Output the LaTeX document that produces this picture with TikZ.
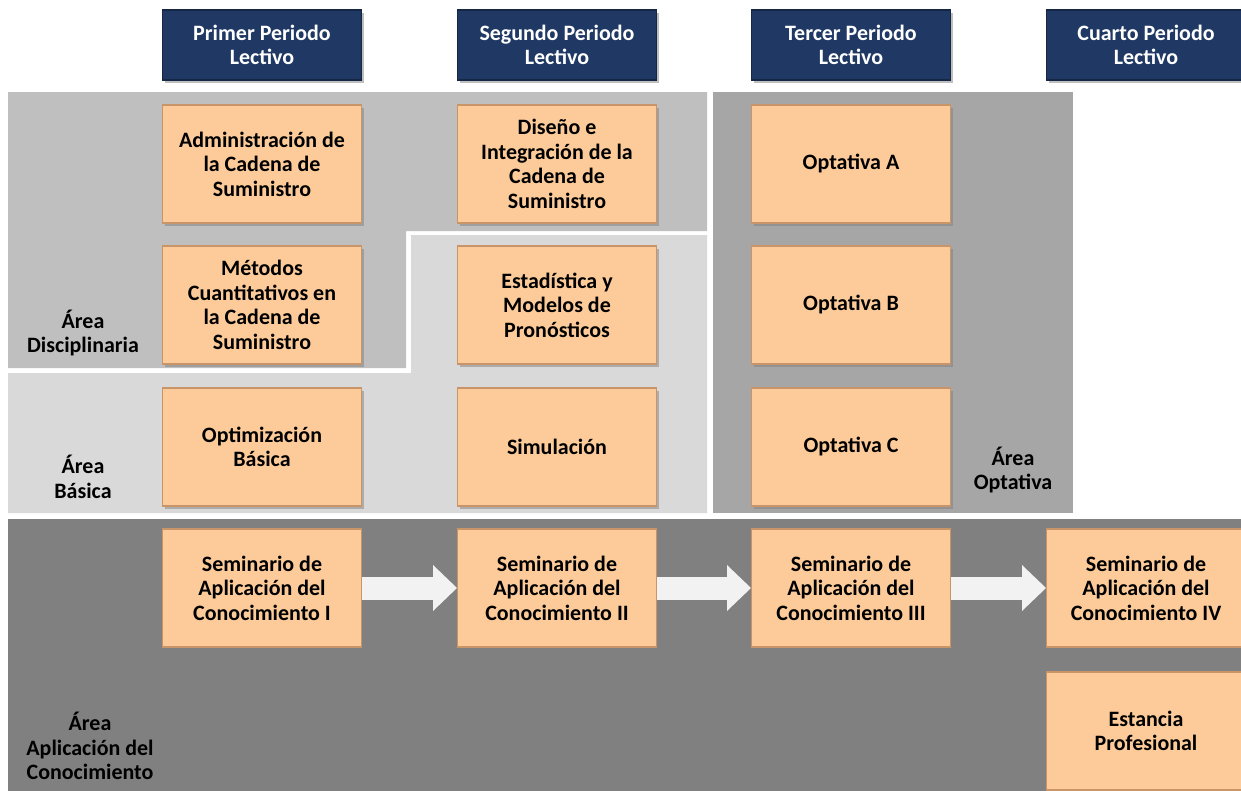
\documentclass[tikz,border=0pt]{standalone}
\usepackage{fontspec}
\setmainfont{Carlito}
\usetikzlibrary{arrows.meta,shadows}

\definecolor{naranja}{RGB}{252,203,153}
\definecolor{naranjaborde}{RGB}{200,148,104}
\definecolor{azul}{RGB}{31,56,100}
\definecolor{grisdisc}{RGB}{191,191,191}
\definecolor{grisbas}{RGB}{217,217,217}
\definecolor{grisopt}{RGB}{166,166,166}
\definecolor{grisapl}{RGB}{128,128,128}
\definecolor{grisflecha}{RGB}{242,242,242}

\tikzset{
  curso/.style={draw=naranjaborde, line width=0.6pt, fill=naranja,
    minimum width=3.98cm, minimum height=2.36cm, inner sep=0pt, align=center,
    font=\fontsize{12.5}{14}\selectfont\bfseries,
    drop shadow={shadow xshift=1.5pt, shadow yshift=-1.5pt, opacity=0.5}},
  periodo/.style={curso, draw=azul!70!black, fill=azul, text=white, minimum height=1.4cm},
  area/.style={align=center, inner sep=0pt, font=\fontsize{12.5}{14}\selectfont\bfseries},
  flecha/.style={draw=grisflecha, line width=0.46cm,
    -{Triangle[length=0.48cm, width=0.92cm, line width=0pt]}}
}

\begin{document}
\begin{tikzpicture}[x=0.02cm, y=-0.02cm]

    \useasboundingbox (0,0) rectangle (1241,791);

    \fill[grisdisc] (8,92) -- (707,92) -- (707,231) -- (406,231) -- (406,368) -- (8,368) -- cycle;
    \fill[grisbas] (411,235) -- (707,235) -- (707,513) -- (8,513) -- (8,373) -- (411,373) -- cycle;
    \fill[grisopt] (713,92) rectangle (1073,513);
    \fill[grisapl] (8,519) rectangle (1241,791);

    \node[periodo] (p1) at (262,45) {Primer Periodo\\Lectivo};
    \node[periodo] (p2) at (557,45) {Segundo Periodo\\Lectivo};
    \node[periodo] (p3) at (851,45) {Tercer Periodo\\Lectivo};
    \node[periodo] (p4) at (1146,45) {Cuarto Periodo\\Lectivo};

    \node[curso] (admin) at (262,164) {Administración de\\la Cadena de\\Suministro};
    \node[curso] (metodos) at (262,305) {Métodos\\Cuantitativos en\\la Cadena de\\Suministro};
    \node[curso] (optim) at (262,447) {Optimización\\Básica};

    \node[curso] (diseno) at (557,164) {Diseño e\\Integración de la\\Cadena de\\Suministro};
    \node[curso] (estad) at (557,305) {Estadística y\\Modelos de\\Pronósticos};
    \node[curso] (simul) at (557,447) {Simulación};

    \node[curso] (optA) at (851,164) {Optativa A};
    \node[curso] (optB) at (851,305) {Optativa B};
    \node[curso] (optC) at (851,447) {Optativa C};

    \node[curso] (sem1) at (262,588) {Seminario de\\Aplicación del\\Conocimiento I};
    \node[curso] (sem2) at (557,588) {Seminario de\\Aplicación del\\Conocimiento II};
    \node[curso] (sem3) at (851,588) {Seminario de\\Aplicación del\\Conocimiento III};
    \node[curso] (sem4) at (1146,588) {Seminario de\\Aplicación del\\Conocimiento IV};
    \node[curso] (estancia) at (1146,731) {Estancia\\Profesional};

    \node[area] (adisc) at (83,333) {Área\\Disciplinaria};
    \node[area] (abas) at (83,477) {Área\\Básica};
    \node[area] (aopt) at (1013,470) {Área\\Optativa};
    \node[area] (aapl) at (90,746) {Área\\Aplicación del\\Conocimiento};

    \draw[flecha] (sem1) -- (sem2);
    \draw[flecha] (sem2) -- (sem3);
    \draw[flecha] (sem3) -- (sem4);

\end{tikzpicture}
\end{document}
